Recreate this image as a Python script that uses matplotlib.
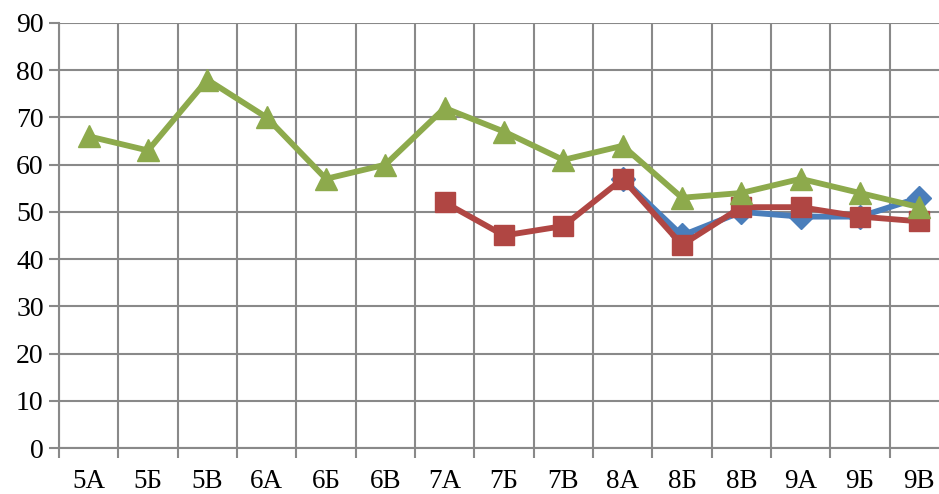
import matplotlib
matplotlib.use("Agg")
import matplotlib.pyplot as plt
import numpy as np

categories = ["5А", "5Б", "5В", "6А", "6Б", "6В", "7А", "7Б", "7В",
              "8А", "8Б", "8В", "9А", "9Б", "9В"]
blue_vals = [None]*9 + [57, 45, 50, 49, 49, 53]
red_vals = [None]*6 + [52, 45, 47, 57, 43, 51, 51, 49, 48]
green_vals = [66, 63, 78, 70, 57, 60, 72, 67, 61, 64, 53, 54, 57, 54, 51]
y_ticks = [0, 10, 20, 30, 40, 50, 60, 70, 80, 90]

plt.rcParams['font.family'] = ['Liberation Serif', 'DejaVu Serif']

fig = plt.figure(figsize=(9.39, 4.94), dpi=100)
ax = fig.add_axes([59/939, 1-448/494, 890/939, 425/494])

x = np.arange(len(categories))
def arr(v):
    return np.array([np.nan if a is None else a for a in v], dtype=float)

ax.plot(x, arr(blue_vals), color="#4A7EBB", lw=4.2, marker="D", ms=12, zorder=3)
ax.plot(x, arr(red_vals), color="#B04643", lw=4.2, marker="s", ms=14, zorder=4)
ax.plot(x, arr(green_vals), color="#8DAA4C", lw=4.2, marker="^", ms=16, zorder=5)

ax.set_xlim(-0.5, len(categories)-0.5)
ax.set_ylim(0, 90)
ax.set_yticks(y_ticks)
ax.set_yticklabels([str(t) for t in y_ticks], fontsize=20)
ax.set_xticks(np.arange(len(categories)+1)-0.5)
ax.set_xticklabels([])
ax.set_xticks(x, minor=True)
ax.set_xticklabels(categories, minor=True, fontsize=19.5)
ax.tick_params(axis='x', which='minor', length=0, pad=15)
ax.tick_params(axis='x', which='major', length=7, width=1.5, color="#898989")
ax.tick_params(axis='y', length=7, width=1.5, color="#898989", pad=4)
ax.grid(True, which='major', color="#898989", lw=1.5)
ax.set_axisbelow(True)
for s in ["top", "right"]:
    ax.spines[s].set_visible(False)
for s in ["left", "bottom"]:
    ax.spines[s].set_color("#898989")
    ax.spines[s].set_linewidth(1.5)

fig.savefig("out.png", dpi=100)
